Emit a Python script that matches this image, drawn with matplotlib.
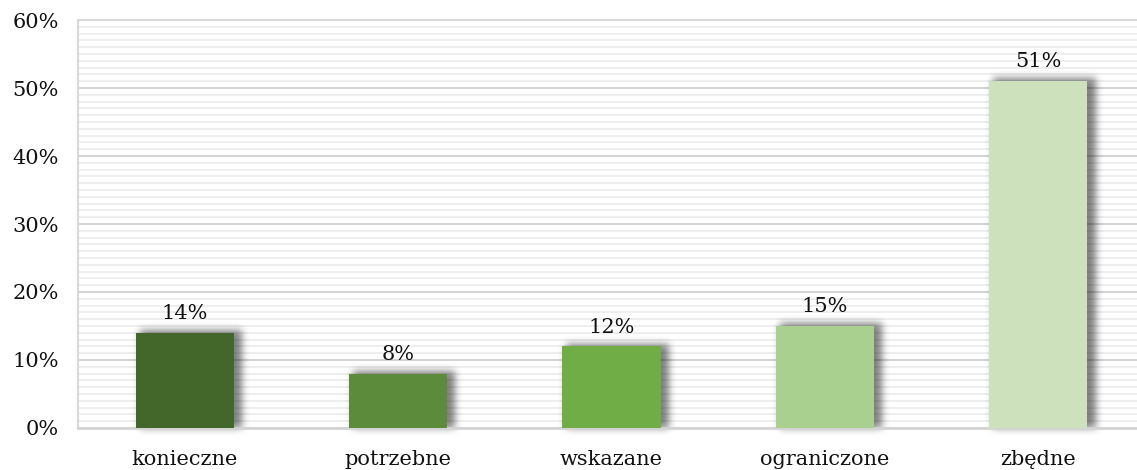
import numpy as np
import matplotlib
matplotlib.use("Agg")
import matplotlib.pyplot as plt
from matplotlib.ticker import MultipleLocator, PercentFormatter

categories = ["konieczne", "potrzebne", "wskazane", "ograniczone", "zbędne"]
values = [14, 8, 12, 15, 51]
colors = ["#43672B", "#5B8B3B", "#71AD47", "#A9D08E", "#CCE1BC"]

plt.rcParams["font.family"] = ["DejaVu Serif"]


class BlurShadow:
    """agg filter: offset, darken and gaussian-blur the drawn patch."""

    def __init__(self, sigma=3.0, ox=4, oy=-2, alpha=0.55):
        self.sigma, self.ox, self.oy, self.alpha = sigma, ox, oy, alpha

    def __call__(self, im, dpi):
        r = int(3 * self.sigma)
        t = np.arange(-r, r + 1)
        k = np.exp(-(t ** 2) / (2 * self.sigma ** 2))
        k /= k.sum()
        pad = r + max(abs(self.ox), abs(self.oy)) + 2
        a = np.pad(im[:, :, 3], pad)
        a = np.apply_along_axis(lambda v: np.convolve(v, k, mode="same"), 0, a)
        a = np.apply_along_axis(lambda v: np.convolve(v, k, mode="same"), 1, a)
        a = np.roll(a, (self.oy, self.ox), axis=(0, 1))
        out = np.zeros(a.shape + (4,), dtype=float)
        out[:, :, 3] = np.clip(a * self.alpha, 0, 1)
        return out, -pad, -pad


fig = plt.figure(figsize=(11.37, 4.70), dpi=100)
# plot area runs slightly past the right edge of the canvas
ax = fig.add_axes([0.0686, 0.0894, 0.9384, 0.868])

x = np.arange(len(categories))
width = 0.46

# blurred shadows behind the bars (slightly enlarged, shifted right)
for xi, v in zip(x, values):
    sh = ax.bar(xi + 0.01, v + 0.4, width=width + 0.02, color="black", zorder=2)[0]
    sh.set_agg_filter(BlurShadow(sigma=3.8, ox=4, oy=0, alpha=0.5))
    sh.set_rasterized(True)

bars = ax.bar(x, values, width=width, color=colors, zorder=3)

for xi, v in zip(x, values):
    ax.annotate(f"{v}%", (xi, v), xytext=(0, 7), textcoords="offset points",
                ha="center", va="bottom", fontsize=15, color="#111111", zorder=4)

ax.set_xlim(-0.5, len(categories) - 0.5)
ax.set_ylim(0, 60)
ax.yaxis.set_major_locator(MultipleLocator(10))
ax.yaxis.set_minor_locator(MultipleLocator(1))
ax.yaxis.set_major_formatter(PercentFormatter(decimals=0))
ax.set_xticks(x)
ax.set_xticklabels(categories)

ax.grid(axis="y", which="major", color="#D4D4D4", linewidth=1.5, zorder=0)
ax.grid(axis="y", which="minor", color="#EEEEEE", linewidth=1.4, zorder=0)
ax.set_axisbelow(True)

ax.spines["right"].set_visible(False)
for side in ["top", "left"]:
    ax.spines[side].set_color("#D9D9D9")
    ax.spines[side].set_linewidth(1.5)
ax.spines["bottom"].set_color("#D4D4D4")
ax.spines["bottom"].set_linewidth(2)

ax.tick_params(axis="both", which="both", length=0, labelsize=15, colors="#111111")
ax.tick_params(axis="x", pad=16)
ax.tick_params(axis="y", pad=14)

fig.savefig("out.png", dpi=100)
